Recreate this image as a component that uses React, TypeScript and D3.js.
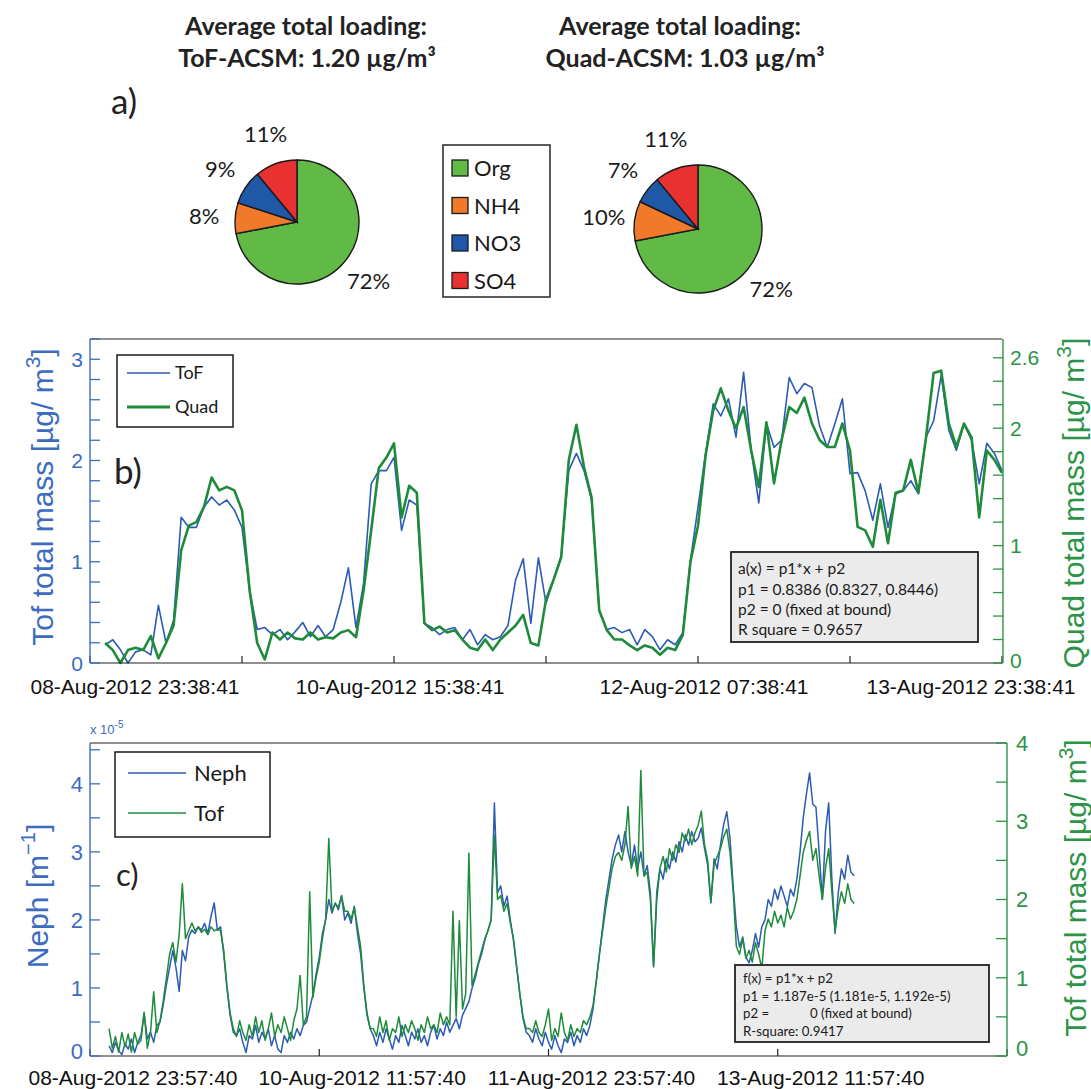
import React from 'react';
import * as d3 from 'd3';

const HOUR = 3600 * 1000;
const AXIS_FONT = "'Liberation Sans', Arial, Helvetica, sans-serif";
const TEXT_FONT = "Lato, 'Open Sans', 'Noto Sans', sans-serif";
const BLUE_AX = '#3b6cc0';
const GREEN_AX = '#2b9446';
const BLUE_LN = '#2c5bb3';
const GREEN_LN = '#1e8b3a';

// a) average composition
const species = ['Org', 'NH4', 'NO3', 'SO4'];
const speciesColors = ['#62ba46', '#f07a2a', '#2058a8', '#e83130'];
const tofPct = [72, 8, 9, 11];
const quadPct = [72, 10, 7, 11];

// b) hourly totals, first point 2 h after 08-Aug-2012 23:38:41
const bStartHour = 2;
const bStepHours = 1;
const bTof = [
  0.18, 0.23, 0.13, 0.0, 0.11, 0.13, 0.08, 0.57, 0.2, 0.42,
  1.44, 1.34, 1.34, 1.54, 1.64, 1.56, 1.61, 1.51, 1.34, 0.72,
  0.33, 0.35, 0.28, 0.33, 0.23, 0.31, 0.4, 0.26, 0.37, 0.26,
  0.33, 0.6, 0.94, 0.35, 0.79, 1.77, 1.9, 1.9, 2.03, 1.31,
  1.61, 1.56, 0.39, 0.35, 0.28, 0.33, 0.35, 0.23, 0.33, 0.18,
  0.28, 0.23, 0.26, 0.37, 0.82, 1.03, 0.39, 1.04, 0.59, 0.82,
  1.06, 1.9, 2.07, 1.9, 1.61, 0.52, 0.33, 0.35, 0.3, 0.33,
  0.18, 0.33, 0.26, 0.13, 0.23, 0.18, 0.3, 1.01, 1.54, 2.07,
  2.56, 2.44, 2.61, 2.23, 2.87, 2.1, 1.58, 2.37, 2.13, 2.2,
  2.82, 2.66, 2.76, 2.72, 2.34, 2.13, 2.36, 2.61, 1.87, 1.88,
  1.7, 1.41, 1.77, 1.34, 1.67, 1.7, 1.8, 1.67, 2.23, 2.39,
  2.84, 2.3, 2.1, 2.36, 2.2, 1.77, 2.17, 2.07, 1.9,
];
const bQuad = [
  0.17, 0.11, 0.0, 0.11, 0.13, 0.11, 0.23, 0.04, 0.17, 0.32,
  0.96, 1.17, 1.2, 1.33, 1.58, 1.47, 1.5, 1.47, 1.3, 0.62,
  0.17, 0.03, 0.26, 0.2, 0.26, 0.21, 0.2, 0.26, 0.2, 0.22,
  0.21, 0.26, 0.28, 0.22, 0.62, 1.13, 1.66, 1.75, 1.87, 1.24,
  1.51, 1.45, 0.34, 0.28, 0.31, 0.26, 0.28, 0.2, 0.13, 0.11,
  0.2, 0.11, 0.2, 0.26, 0.32, 0.41, 0.17, 0.15, 0.54, 0.71,
  0.9, 1.73, 2.03, 1.67, 1.41, 0.45, 0.28, 0.2, 0.2, 0.15,
  0.11, 0.15, 0.13, 0.07, 0.13, 0.11, 0.24, 0.86, 1.17, 1.77,
  2.15, 2.34, 2.15, 2.0, 2.18, 1.81, 1.5, 2.05, 1.53, 1.9,
  2.18, 2.13, 2.26, 2.04, 1.9, 1.84, 1.84, 2.04, 1.81, 1.16,
  1.13, 0.99, 1.39, 1.02, 1.45, 1.47, 1.73, 1.45, 1.92, 2.47,
  2.49, 2.04, 1.84, 2.04, 1.92, 1.24, 1.81, 1.73, 1.62,
];
const bLeftLabels = [0, 1, 2, 3];
const bRightLabels = [0, 1, 2, 2.6];

// c) half-hourly, first point 3 h after 08-Aug-2012 23:57:40
const cStartHour = 3;
const cStepHours = 0.5;
// Neph scattering, x 1e-5 m^-1
const cNeph = [
  0.15, 0.05, 0.2, 0.08, 0.02, 0.18, 0.1, 0.25, 0.05, 0.2, 0.3, 0.62, 0.25, 0.35, 0.2, 0.45,
  0.5, 0.75, 1.05, 1.3, 1.55, 1.3, 0.95, 1.55,
  1.4, 1.75, 1.85, 1.8, 1.9, 1.85, 1.95, 1.8, 2.05, 2.25, 1.85, 1.9,
  1.5, 1.0, 0.6, 0.35, 0.3,
  0.4, 0.2, 0.05, 0.3, 0.25, 0.45, 0.2, 0.35, 0.25, 0.4, 0.15, 0.3, 0.1, 0.05, 0.3, 0.2, 0.35, 0.25, 0.4, 0.3, 0.45, 0.5,
  0.7, 0.9, 1.2, 1.45, 1.8, 2.0, 2.3, 2.1,
  2.25, 2.15, 2.35, 2.0, 2.1, 1.95, 2.2, 1.8,
  1.5, 1.0, 0.6, 0.4,
  0.3, 0.15, 0.35, 0.2, 0.4, 0.25, 0.1, 0.3, 0.2, 0.45, 0.3, 0.15, 0.35, 0.25, 0.4,
  0.2, 0.3, 0.15, 0.35, 0.45, 0.25, 0.4, 0.3, 0.5, 0.35, 0.45, 0.55, 0.4, 0.6, 0.7,
  0.8, 1.0, 1.15, 1.35, 1.5, 1.7, 1.85, 2.0,
  3.72, 2.4, 2.5, 2.2, 2.35, 2.0,
  1.7, 1.3, 0.9, 0.55, 0.35,
  0.3, 0.2, 0.4, 0.25, 0.15, 0.35, 0.2, 0.1, 0.3, 0.15, 0.05, 0.25, 0.2, 0.35, 0.15, 0.3, 0.2, 0.4, 0.3, 0.45,
  0.7, 1.1, 1.5, 1.9, 2.3, 2.6, 2.9, 3.1, 3.25,
  3.0, 3.3, 3.0, 2.8, 3.1, 2.75, 3.0, 2.65, 2.8, 2.4,
  1.31,
  2.3, 2.75, 2.6, 2.9, 2.75, 3.0, 2.85, 3.15, 3.0, 3.25, 3.1, 3.3, 3.15, 3.2, 3.35, 3.05, 2.8, 2.25, 2.9, 2.75, 3.1,
  3.4, 3.59, 3.2,
  2.5, 1.9, 1.6, 1.75, 1.45, 1.37, 1.55, 1.8, 1.6, 1.9,
  2.0, 2.3, 2.2, 2.45, 2.3, 2.5, 2.35, 2.2, 2.45, 2.35, 2.6,
  3.0, 3.5, 3.85, 4.16, 3.7, 3.66, 3.0, 2.3, 3.3, 3.72, 2.6, 1.8,
  2.4, 2.75, 2.6, 2.95, 2.7, 2.65,
];
// ToF total mass, ug/m3
const cTof = [
  0.35, 0.1, 0.25, 0.05, 0.3, 0.12, 0.28, 0.05, 0.3, 0.15, 0.2, 0.56, 0.1, 0.3, 0.82, 0.3,
  0.45, 0.7, 1.0, 1.3, 1.45, 1.2, 1.55, 2.2,
  1.5, 1.6, 1.7, 1.6, 1.65, 1.58, 1.62, 1.55, 1.65, 1.6, 1.62, 1.6,
  1.35, 0.9, 0.55, 0.35, 0.25,
  0.45, 0.3, 0.2, 0.4, 0.25, 0.5, 0.3, 0.45, 0.2, 0.35, 0.55, 0.25, 0.4, 0.3, 0.5, 0.35, 0.2, 0.45, 0.6, 1.03, 0.4, 0.5,
  2.1, 0.75, 1.0, 1.2, 1.5, 1.75, 2.78, 1.85,
  1.95, 1.9, 2.05, 1.85, 1.85, 1.75, 1.9, 1.65,
  1.4, 0.9, 0.55, 0.35,
  0.35, 0.25, 0.5, 0.3, 0.45, 0.2, 0.35, 0.3, 0.5, 0.25, 0.4, 0.3, 0.45, 0.35, 0.2,
  0.4, 0.3, 0.5, 0.35, 0.4, 0.3, 0.55, 0.4, 0.5, 0.4, 1.85, 0.5, 1.73, 0.6, 0.8,
  2.59, 0.9, 1.05, 1.2, 1.35, 1.5, 1.6, 1.75,
  2.82, 2.0, 2.05, 1.85, 1.95, 1.7,
  1.5, 1.15, 0.8, 0.5, 0.35,
  0.35, 0.3, 0.45, 0.3, 0.25, 0.4, 0.6, 0.2, 0.35, 0.25, 0.55, 0.3, 0.2, 0.4, 0.25, 0.35, 0.3, 0.45, 0.4, 0.5,
  0.65, 0.95, 1.3, 1.6, 1.9, 2.15, 2.4, 2.55, 2.6,
  2.5, 2.7, 3.19, 2.4, 2.55, 2.3, 3.65, 2.3, 2.35, 2.0,
  1.15,
  2.1, 2.4, 2.55, 2.35, 2.65, 2.5, 2.7, 2.6, 2.85, 2.75, 2.9, 2.7, 2.85, 2.95, 3.13, 2.7, 2.5, 1.97, 2.45, 2.55, 2.65,
  2.8, 2.9, 2.6,
  2.1, 1.4, 1.3, 1.5, 1.25, 1.35, 1.2, 1.45, 1.3, 1.12,
  1.6, 1.75, 1.65, 1.85, 1.7, 1.8, 1.65, 1.9, 1.75, 1.85, 2.0,
  2.3, 2.6, 2.75, 2.87, 2.5, 2.65, 2.3, 2.0, 2.4, 2.65, 2.1, 1.6,
  1.9, 2.1, 1.95, 2.2, 2.0, 1.95,
];
const cLeftLabels = [0, 1, 2, 3, 4];
const cRightLabels = [0, 1, 2, 3, 4];

const fmtDate = d3.utcFormat('%d-%b-%Y %H:%M:%S');

function Pie({ cx, cy, r, values }: { cx: number; cy: number; r: number; values: number[] }) {
  const arcs = d3.pie<number>().sort(null).value((d) => d)(values);
  const arc = d3.arc<d3.PieArcDatum<number>>().innerRadius(0).outerRadius(r);
  const lab = d3.arc<d3.PieArcDatum<number>>().innerRadius(r + 31).outerRadius(r + 31);
  return (
    <g transform={`translate(${cx},${cy})`}>
      {arcs.map((a, i) => (
        <path key={i} d={arc(a) || ''} fill={speciesColors[i]} stroke="#1a1a1a" strokeWidth={1.4} />
      ))}
      {arcs.map((a, i) => {
        const [x, y] = lab.centroid(a);
        return (
          <text key={'l' + i} x={x} y={y} dy="0.35em" textAnchor="middle" fontSize={22} fontFamily={TEXT_FONT} fill="#1a1a1a">
            {values[i]}%
          </text>
        );
      })}
    </g>
  );
}

export default function App() {
  // ---- panel b scales ----
  const bT0 = Date.UTC(2012, 7, 8, 23, 38, 41);
  const bL = 90, bR = 1002, bTop = 339, bBot = 663;
  const bx = d3.scaleUtc().domain([new Date(bT0), new Date(bT0 + 120 * HOUR)]).range([bL, bR]);
  const byL = d3.scaleLinear().domain([0, 3.2]).range([bBot, bTop]);
  const byR = d3.scaleLinear().domain([0, 2.76]).range([bBot, bTop]);
  const bTimes = bTof.map((_, i) => new Date(bT0 + (bStartHour + i * bStepHours) * HOUR));
  const bTofPath = d3.line<number>().x((_, i) => bx(bTimes[i])).y((d) => byL(d))(bTof) || '';
  const bQuadPath = d3.line<number>().x((_, i) => bx(bTimes[i])).y((d) => byR(d))(bQuad) || '';
  const bTicks = d3.range(0, 121, 20).map((h) => new Date(bT0 + h * HOUR));
  const bLabTicks = d3.range(0, 121, 40).map((h) => new Date(bT0 + h * HOUR));
  const bLeftMinor = d3.range(0, 17).map((i) => i * 0.2);
  const bRightMinor = d3.range(0, 14).map((i) => i * 0.2);

  // ---- panel c scales ----
  const cT0 = Date.UTC(2012, 7, 8, 23, 57, 40);
  const cL = 90, cR = 1007, cTop = 743, cBot = 1056;
  const cx = d3.scaleUtc().domain([new Date(cT0), new Date(cT0 + 144 * HOUR)]).range([cL, cR]);
  const cyL = d3.scaleLinear().domain([0, 4.6]).range([cBot, cTop]);
  const cyR = d3.scaleLinear().domain([0, 4]).range([cBot, cTop]);
  const cTimes = cNeph.map((_, i) => new Date(cT0 + (cStartHour + i * cStepHours) * HOUR));
  const cNephPath = d3.line<number>().x((_, i) => cx(cTimes[i])).y((d) => cyL(d))(cNeph) || '';
  const cTofPath = d3.line<number>().x((_, i) => cx(cTimes[i])).y((d) => cyR(d))(cTof) || '';
  const cTicks = d3.range(0, 145, 36).map((h) => new Date(cT0 + h * HOUR));
  const cLabTicks = d3.range(0, 109, 36).map((h) => new Date(cT0 + h * HOUR));
  const cLeftMinor = d3.range(0, 10).map((i) => i * 0.5);
  const cRightMinor = d3.range(0, 9).map((i) => i * 0.5);

  const titleStyle = { fontFamily: TEXT_FONT, fontWeight: 700, fontSize: 25, fill: '#222' } as const;

  return (
    <svg width={1091} height={1089} style={{ position: 'absolute', left: 0, top: 0, background: '#fff' }}>
      {/* ===== a) ===== */}
      <text x={306} y={35} textAnchor="middle" style={titleStyle}>Average total loading:</text>
      <text x={307} y={67} textAnchor="middle" style={titleStyle}>ToF-ACSM: 1.20 µg/m³</text>
      <text x={680} y={35} textAnchor="middle" style={titleStyle}>Average total loading:</text>
      <text x={685} y={67} textAnchor="middle" style={titleStyle}>Quad-ACSM: 1.03 µg/m³</text>
      <text x={111} y={114} fontSize={35} fontFamily={TEXT_FONT} fill="#222">a)</text>

      <Pie cx={297} cy={222} r={62} values={tofPct} />
      <Pie cx={698} cy={229} r={64} values={quadPct} />

      <rect x={443} y={145} width={107} height={152} fill="#fff" stroke="#333" strokeWidth={1.6} />
      {species.map((s, i) => (
        <g key={s} transform={`translate(452,${168 + i * 37.5})`}>
          <rect x={0} y={-8} width={16} height={16} fill={speciesColors[i]} stroke="#1a1a1a" strokeWidth={1.3} />
          <text x={22} y={8} fontSize={22} fontFamily={TEXT_FONT} fill="#1a1a1a">{s}</text>
        </g>
      ))}

      {/* ===== b) ===== */}
      <path d={bTofPath} fill="none" stroke={BLUE_LN} strokeWidth={1.6} strokeLinejoin="round" />
      <path d={bQuadPath} fill="none" stroke={GREEN_LN} strokeWidth={2.6} strokeLinejoin="round" />
      <line x1={bL} x2={bR} y1={bTop} y2={bTop} stroke="#222" strokeWidth={1.2} />
      <line x1={bL} x2={bR} y1={bBot} y2={bBot} stroke="#222" strokeWidth={1.2} />
      {bTicks.map((t, i) => (
        <line key={i} x1={bx(t)} x2={bx(t)} y1={bBot} y2={bBot - 7} stroke="#222" strokeWidth={1.2} />
      ))}
      {bLabTicks.map((t, i) => {
        const x = Math.min(Math.max(bx(t) + 6, 135), 971);
        return (
          <text key={i} x={x} y={694} textAnchor="middle" fontSize={21} fontFamily={AXIS_FONT} fill="#111">
            {fmtDate(t)}
          </text>
        );
      })}
      <line x1={bL} x2={bL} y1={bTop} y2={bBot} stroke={BLUE_AX} strokeWidth={1.4} />
      {bLeftMinor.map((v, i) => (
        <line key={i} x1={bL} x2={bL + 10} y1={byL(v)} y2={byL(v)} stroke={BLUE_AX} strokeWidth={1.3} />
      ))}
      {bLeftLabels.map((v) => (
        <text key={v} x={83} y={byL(v)} dy="0.36em" textAnchor="end" fontSize={21} fontFamily={AXIS_FONT} fill={BLUE_AX}>{v}</text>
      ))}
      <line x1={bR + 1} x2={bR + 1} y1={bTop} y2={bBot} stroke={GREEN_AX} strokeWidth={1.4} />
      {bRightMinor.map((v, i) => (
        <line key={i} x1={bR + 1} x2={bR - 9} y1={byR(v)} y2={byR(v)} stroke={GREEN_AX} strokeWidth={1.3} />
      ))}
      {bRightLabels.map((v) => (
        <text key={v} x={1010} y={byR(v) - (v === 0 ? 3 : 0)} dy="0.36em" fontSize={21} fontFamily={AXIS_FONT} fill={GREEN_AX}>{v}</text>
      ))}
      <text transform="translate(53,497) rotate(-90)" textAnchor="middle" fontSize={30} fontFamily={AXIS_FONT} fill={BLUE_AX}>
        Tof total mass [µg/ m<tspan dy={-13} fontSize={21}>3</tspan><tspan dy={13}>]</tspan>
      </text>
      <text transform="translate(1084,503) rotate(-90)" textAnchor="middle" fontSize={30} fontFamily={AXIS_FONT} fill={GREEN_AX}>
        Quad total mass [µg/ m<tspan dy={-13} fontSize={21}>3</tspan><tspan dy={13}>]</tspan>
      </text>
      <text x={114} y={484} fontSize={35} fontFamily={TEXT_FONT} fill="#222">b)</text>

      <rect x={117} y={355} width={116} height={72} fill="#fff" stroke="#1a1a1a" strokeWidth={1.5} />
      <line x1={127} x2={170} y1={373} y2={373} stroke={BLUE_LN} strokeWidth={1.6} />
      <text x={175} y={379} fontSize={18} fontFamily={TEXT_FONT} fill="#1a1a1a">ToF</text>
      <line x1={127} x2={170} y1={407} y2={407} stroke={GREEN_LN} strokeWidth={3} />
      <text x={175} y={413} fontSize={18} fontFamily={TEXT_FONT} fill="#1a1a1a">Quad</text>

      <rect x={731} y={552} width={247} height={90} fill="#ebebeb" stroke="#222" strokeWidth={1.8} />
      <g fontSize={15.5} fontFamily={TEXT_FONT} fill="#1a1a1a">
        <text x={738} y={574}>a(x) = p1*x + p2</text>
        <text x={738} y={595}>p1 = 0.8386 (0.8327, 0.8446)</text>
        <text x={738} y={615}>p2 = 0 (fixed at bound)</text>
        <text x={738} y={635}>R square = 0.9657</text>
      </g>

      {/* ===== c) ===== */}
      <path d={cNephPath} fill="none" stroke={BLUE_LN} strokeWidth={1.5} strokeLinejoin="round" />
      <path d={cTofPath} fill="none" stroke={GREEN_LN} strokeWidth={1.5} strokeLinejoin="round" />
      <line x1={cL} x2={cR} y1={cTop} y2={cTop} stroke="#222" strokeWidth={1.2} />
      <line x1={cL} x2={cR} y1={cBot} y2={cBot} stroke="#222" strokeWidth={1.2} />
      {cTicks.map((t, i) => (
        <line key={i} x1={cx(t)} x2={cx(t)} y1={cBot} y2={cBot - 7} stroke="#222" strokeWidth={1.2} />
      ))}
      {cLabTicks.map((t, i) => (
        <text key={i} x={cx(t) + 43} y={1085} textAnchor="middle" fontSize={21} fontFamily={AXIS_FONT} fill="#111">
          {fmtDate(t)}
        </text>
      ))}
      <line x1={cL} x2={cL} y1={cTop} y2={cBot} stroke={BLUE_AX} strokeWidth={1.4} />
      {cLeftMinor.map((v, i) => (
        <line key={i} x1={cL} x2={cL + 10} y1={cyL(v)} y2={cyL(v)} stroke={BLUE_AX} strokeWidth={1.3} />
      ))}
      {cLeftLabels.map((v) => (
        <text key={v} x={83} y={cyL(v) - (v === 0 ? 5 : 0)} dy="0.36em" textAnchor="end" fontSize={22} fontFamily={AXIS_FONT} fill={BLUE_AX}>{v}</text>
      ))}
      <text x={90} y={734} fontSize={13} fontFamily={AXIS_FONT} fill={BLUE_AX}>
        x 10<tspan dy={-6} fontSize={10}>-5</tspan>
      </text>
      <line x1={cR} x2={cR} y1={cTop} y2={cBot} stroke={GREEN_AX} strokeWidth={1.4} />
      {cRightMinor.map((v, i) => (
        <line key={i} x1={cR} x2={cR - 11} y1={cyR(v)} y2={cyR(v)} stroke={GREEN_AX} strokeWidth={1.3} />
      ))}
      {cRightLabels.map((v) => (
        <text key={v} x={1016} y={cyR(v) - (v === 0 ? 8 : 0)} dy="0.36em" fontSize={22} fontFamily={AXIS_FONT} fill={GREEN_AX}>{v}</text>
      ))}
      <text transform="translate(48,896) rotate(-90)" textAnchor="middle" fontSize={30} fontFamily={AXIS_FONT} fill={BLUE_AX}>
        Neph [m<tspan dy={-13} fontSize={20}>−1</tspan><tspan dy={13}>]</tspan>
      </text>
      <text transform="translate(1086,888) rotate(-90)" textAnchor="middle" fontSize={30} fontFamily={AXIS_FONT} fill={GREEN_AX}>
        Tof total mass [µg/ m<tspan dy={-13} fontSize={21}>3</tspan><tspan dy={13}>]</tspan>
      </text>
      <text x={116} y={886} fontSize={31} fontFamily={TEXT_FONT} fill="#222">c)</text>

      <rect x={115} y={752} width={155} height={85} fill="#fff" stroke="#1a1a1a" strokeWidth={1.5} />
      <line x1={128} x2={186} y1={773} y2={773} stroke={BLUE_LN} strokeWidth={1.5} />
      <text x={194} y={781} fontSize={22} fontFamily={TEXT_FONT} fill="#1a1a1a">Neph</text>
      <line x1={128} x2={186} y1={813} y2={813} stroke={GREEN_LN} strokeWidth={1.5} />
      <text x={194} y={821} fontSize={22} fontFamily={TEXT_FONT} fill="#1a1a1a">Tof</text>

      <rect x={735} y={965} width={254} height={77} fill="#ebebeb" stroke="#222" strokeWidth={1.8} />
      <g fontSize={13.3} fontFamily={TEXT_FONT} fill="#1a1a1a">
        <text x={743} y={983}>f(x) = p1*x + p2</text>
        <text x={743} y={1001}>p1 = 1.187e-5 (1.181e-5, 1.192e-5)</text>
        <text x={743} y={1018}>p2 =<tspan x={810}>0  (fixed at bound)</tspan></text>
        <text x={743} y={1036}>R-square: 0.9417</text>
      </g>
    </svg>
  );
}
